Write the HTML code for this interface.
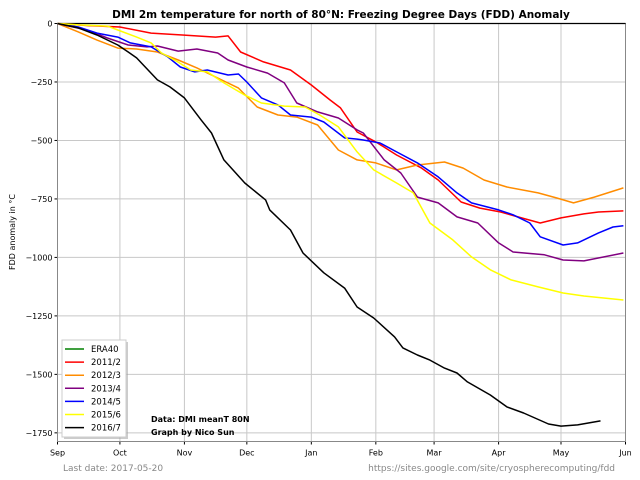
<!DOCTYPE html>
<html><head><meta charset="utf-8"><style>
body{margin:0;background:#fff;}
svg{display:block;font-family:"DejaVu Sans","Liberation Sans",sans-serif;}
</style></head><body>
<svg id="chart" width="640" height="480" viewBox="0 0 640 480">
<g id="grid"></g><g id="axes"></g><g id="series"></g>
<text x="341" y="18" text-anchor="middle" font-size="10.5" font-weight="bold">DMI 2m temperature for north of 80°N: Freezing Degree Days (FDD) Anomaly</text>
<text transform="translate(15,232) rotate(-90)" text-anchor="middle" font-size="8">FDD anomaly in °C</text>
<text x="151" y="422" font-size="8" font-weight="bold">Data: DMI meanT 80N</text>
<text x="151" y="435" font-size="8" font-weight="bold">Graph by Nico Sun</text>
<text x="63" y="471" font-size="9" fill="#888">Last date: 2017-05-20</text>
<text x="615" y="471" font-size="9" fill="#888" text-anchor="end">https://sites.google.com/site/cryospherecomputing/fdd</text>
<g id="legend"></g>
</svg>
<script>
const monthLabels=["Sep","Oct","Nov","Dec","Jan","Feb","Mar","Apr","May","Jun"];
const monthDays=[0,30,61,91,122,153,181,212,242,273];
const yTicks=[0,-250,-500,-750,-1000,-1250,-1500,-1750];
const seriesNames=["ERA40","2011/2","2012/3","2013/4","2014/5","2015/6","2016/7"];
const seriesColors=["green","red","darkorange","purple","blue","yellow","black"];
const redDays=[0,15,30,45,60,76,82,88,99,112,122,131,136,144,153,163,175,183,194,203,213,223,232,242,253,260,272];
const redVals=[0,-9,-15,-41,-49,-58,-53,-122,-164,-199,-263,-327,-361,-464,-506,-562,-618,-669,-763,-789,-806,-831,-853,-831,-814,-806,-801];
const orangeDays=[0,10,19,29,38,48,58,67,77,87,96,106,115,125,135,144,153,163,173,186,195,205,216,231,240,248,258,272];
const orangeVals=[0,-36,-71,-105,-109,-122,-156,-190,-233,-276,-357,-391,-400,-434,-541,-583,-596,-626,-605,-592,-618,-669,-699,-724,-746,-767,-742,-703];
const purpleDays=[0,14,24,34,43,48,58,67,77,82,91,101,109,115,125,135,144,147,157,165,173,183,192,202,212,219,234,243,253,272];
const purpleVals=[0,-28,-62,-92,-100,-96,-118,-109,-126,-156,-186,-212,-254,-340,-378,-404,-455,-468,-583,-639,-742,-767,-827,-853,-938,-977,-989,-1011,-1015,-981];
const blueDays=[0,10,19,29,35,45,53,59,66,72,82,87,91,98,106,112,122,128,138,144,147,155,163,173,183,192,199,212,219,227,232,243,250,260,267,272];
const blueVals=[0,-15,-41,-58,-83,-100,-143,-186,-207,-199,-220,-216,-250,-318,-348,-391,-400,-421,-489,-494,-498,-511,-549,-596,-656,-724,-767,-797,-818,-853,-912,-947,-938,-895,-870,-865];
const yellowDays=[0,10,24,29,38,45,50,58,64,72,80,90,98,109,119,126,135,144,152,163,171,179,190,199,208,218,231,243,253,272];
const yellowVals=[0,-6,-11,-28,-58,-83,-126,-165,-199,-207,-254,-306,-340,-353,-357,-391,-442,-549,-626,-682,-724,-853,-925,-998,-1053,-1096,-1126,-1152,-1165,-1182];
const blackDays=[0,10,19,29,34,38,48,54,61,69,74,80,90,100,102,112,118,128,138,144,152,162,166,173,179,186,192,197,208,216,224,236,242,250,261];
const blackVals=[0,-19,-49,-92,-122,-147,-241,-271,-318,-412,-468,-583,-682,-754,-797,-883,-981,-1066,-1131,-1212,-1259,-1340,-1387,-1417,-1439,-1473,-1494,-1532,-1588,-1639,-1665,-1712,-1721,-1716,-1699];

const X0=57.5,X1=625.5,Y0=23.5,YB=441.5,DAYMAX=273,VMIN=-1787;
function xs(d){return X0+(X1-X0)*d/DAYMAX;}
function ys(v){return Y0+(YB-Y0)*(v/VMIN);}
const NS="http://www.w3.org/2000/svg";
function mk(tag,attrs,parent){const e=document.createElementNS(NS,tag);for(const k in attrs)e.setAttribute(k,attrs[k]);parent.appendChild(e);return e;}
const grid=document.getElementById('grid'),axes=document.getElementById('axes'),ser=document.getElementById('series'),leg=document.getElementById('legend');
monthDays.forEach((d,i)=>{
  const g=mk('line',{x1:xs(d),x2:xs(d),y1:Y0,y2:YB,stroke:'#c8c8c8','stroke-width':1},grid);
  
  
  mk('line',{x1:xs(d),x2:xs(d),y1:YB,y2:YB+3,stroke:'#000','stroke-width':1},axes);
  const t=mk('text',{x:xs(d),y:YB+14,'text-anchor':'middle','font-size':8},axes);
  t.textContent=monthLabels[i];
  
  
});
yTicks.forEach(v=>{
  if(v!==0){const g=mk('line',{x1:X0,x2:X1,y1:ys(v),y2:ys(v),stroke:'#c8c8c8','stroke-width':1},grid);
  
  }
  mk('line',{x1:X0-3,x2:X0,y1:ys(v),y2:ys(v),stroke:'#000','stroke-width':1},axes);
  const t=mk('text',{x:X0-5,y:ys(v)+3,'text-anchor':'end','font-size':8},axes);
  t.textContent=v===0?'0':'\u2212'+Math.abs(v);
  
  
});
const fr=mk('rect',{x:X0,y:Y0,width:X1-X0,height:YB-Y0,fill:'none',stroke:'#888','stroke-width':1},axes);


const zl=mk('line',{x1:X0,x2:X1,y1:Y0,y2:Y0,stroke:'#000','stroke-width':1.3},axes);


const allSeries=[[redDays,redVals,1],[orangeDays,orangeVals,2],[purpleDays,purpleVals,3],[blueDays,blueVals,4],[yellowDays,yellowVals,5],[blackDays,blackVals,6]];
allSeries.forEach(([ds,vs,ci])=>{
  const pts=ds.map((d,i)=>xs(d).toFixed(1)+','+ys(vs[i]).toFixed(1)).join(' ');
  const p=mk('polyline',{points:pts,fill:'none',stroke:seriesColors[ci],'stroke-width':1.5,'stroke-linejoin':'round'},ser);
  
  
});
mk('rect',{x:64,y:342,width:64,height:97,fill:'#999',opacity:0.5},leg);
const lb=mk('rect',{x:62,y:340,width:64,height:97,fill:'#fff',stroke:'#ccc','stroke-width':1},leg);


seriesNames.forEach((n,i)=>{
  const y=349+i*13.1;
  const l=mk('line',{x1:65,x2:84,y1:y,y2:y,stroke:seriesColors[i],'stroke-width':1.5},leg);
  
  
  const t=mk('text',{x:91,y:y+3,'font-size':8.5},leg);
  t.textContent=n;
  
  
});
</script>
</body></html>
